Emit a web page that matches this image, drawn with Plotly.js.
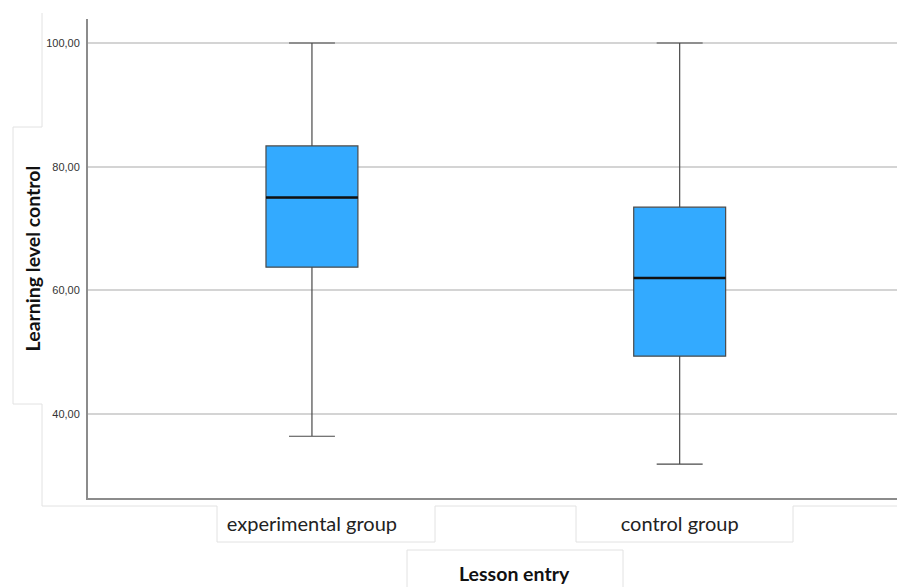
<!DOCTYPE html>
<html>
<head>
<meta charset="utf-8">
<script src="https://cdn.plot.ly/plotly-3.0.1.min.js"></script>
<style>html,body{margin:0;padding:0;background:#fff;}#chart{width:897px;height:587px;}</style>
</head>
<body>
<div id="chart"></div>
<script>
const categories = ["experimental group", "control group"];
const lowerWhisker = [36.4, 31.9];
const q1 = [63.75, 49.35];
const median = [75.0, 62.0];
const q3 = [83.35, 73.45];
const upperWhisker = [100.0, 100.0];
const yTicks = [40, 60, 80, 100];
const xTitle = 'Lesson entry';
const yTitle = 'Learning level control';

const boxWidth = 0.25;

const trace = {
  type: 'box',
  x: categories,
  q1: q1,
  median: median,
  q3: q3,
  lowerfence: lowerWhisker,
  upperfence: upperWhisker,
  width: boxWidth,
  whiskerwidth: 0.5,
  fillcolor: '#33aaff',
  line: {color: '#4a4a4a', width: 1.2},
  boxpoints: false,
  hoverinfo: 'skip',
  showlegend: false
};

// Thicker black median lines drawn over each box at the category positions
const shapes = median.map((m, i) => ({
  type: 'line', xref: 'x', yref: 'y',
  x0: i - boxWidth / 2, x1: i + boxWidth / 2, y0: m, y1: m,
  line: {color: '#111', width: 2.5}
}));

// Faint SPSS layout frames around titles/labels (pixel -> paper)
const L = 88, T = 19, W = 809, H = 479;
const px = x => (x - L) / W;
const py = y => 1 - (y - T) / H;
function poly(points) {
  let d = '';
  points.forEach((p, k) => { d += (k ? 'L' : 'M') + px(p[0]) + ',' + py(p[1]) + ' '; });
  return {type: 'path', xref: 'paper', yref: 'paper', path: d.trim(),
          line: {color: '#e2e2e2', width: 1}, layer: 'below'};
}
shapes.push(poly([[42, 13], [42, 127], [13, 127], [13, 404], [42, 404], [42, 506], [217, 506], [217, 542], [435, 542], [435, 506], [576, 506], [576, 542], [793, 542], [793, 506], [897, 506]]));
shapes.push(poly([[407, 587], [407, 550], [623, 550], [623, 587]]));

const layout = {
  width: 897, height: 587,
  margin: {l: 88, r: 0, t: 19, b: 89},
  paper_bgcolor: '#fff', plot_bgcolor: '#fff',
  separators: ',.',
  xaxis: {
    type: 'category',
    range: [-0.609, 1.591],
    showline: true, linecolor: '#8c8c8c', linewidth: 2,
    showgrid: false, zeroline: false, ticks: '',
    ticklabelstandoff: 7,
    tickfont: {family: 'Lato, sans-serif', size: 20, color: '#222'}
  },
  yaxis: {
    range: [26.41, 103.88],
    tickvals: yTicks, tickformat: '.2f',
    showline: true, linecolor: '#8c8c8c', linewidth: 2,
    showgrid: true, gridcolor: '#d4d4d4', gridwidth: 2,
    zeroline: false, ticks: '',
    ticklabelstandoff: 4,
    tickfont: {family: 'Liberation Sans, Arial, sans-serif', size: 11, color: '#333'},
    title: {text: '<b>' + yTitle + '</b>', standoff: 0,
            font: {family: 'Lato, sans-serif', size: 19.5, color: '#111'}}
  },
  annotations: [{
    xref: 'paper', yref: 'paper', x: px(514), y: py(573),
    xanchor: 'center', yanchor: 'middle', showarrow: false,
    text: '<b>' + xTitle + '</b>',
    font: {family: 'Lato, sans-serif', size: 19.5, color: '#111'}
  }],
  shapes: shapes
};

Plotly.newPlot('chart', [trace], layout, {staticPlot: true});
</script>
</body>
</html>
